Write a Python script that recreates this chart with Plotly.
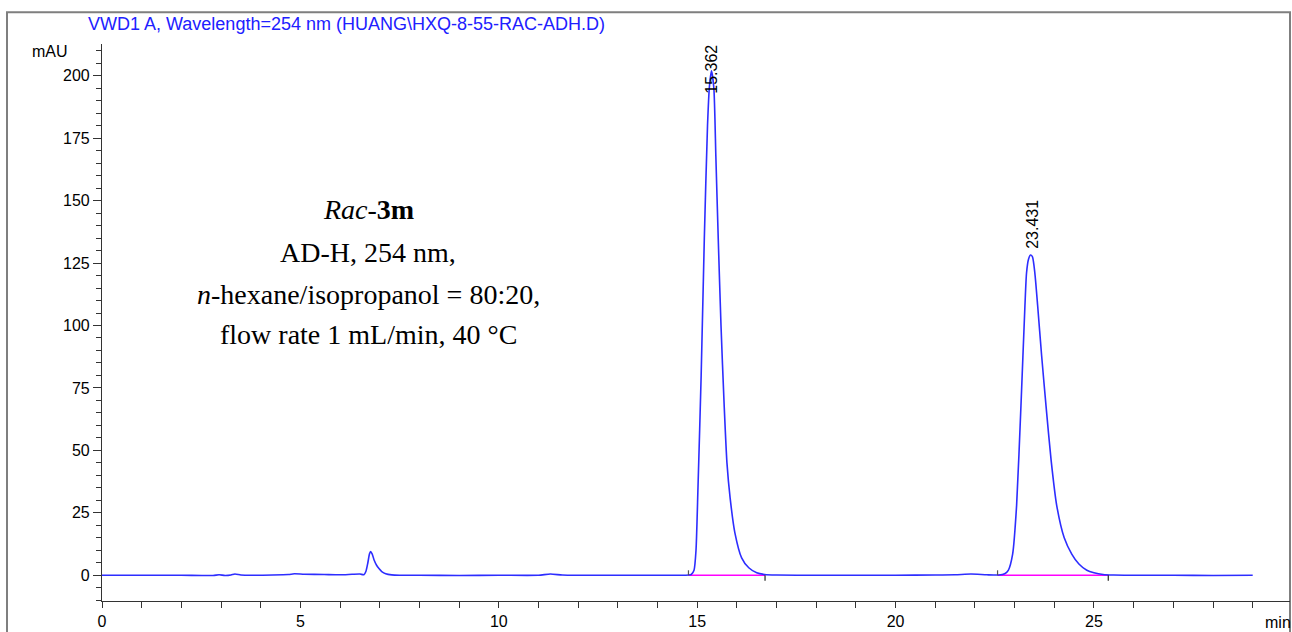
import plotly.graph_objects as go

# ---- data ----
time_min = [0.0, 1.0, 2.0, 2.8, 2.95, 3.1, 3.25, 3.35, 3.5, 3.8, 4.3, 4.7, 4.85, 5.1, 5.6, 6.0, 6.3, 6.5, 6.6,
            6.65, 6.7, 6.74, 6.77, 6.81, 6.86, 6.92, 6.98, 7.05, 7.15, 7.3, 7.5, 8.0, 9.0, 10.0, 11.0,
            11.3, 11.6, 12.0, 13.0, 14.0, 14.6, 14.78, 14.85, 14.92, 14.97, 15.02, 15.1, 15.18, 15.26,
            15.31, 15.36, 15.42, 15.47, 15.53, 15.6, 15.68, 15.75, 15.83, 15.95, 16.12, 16.3, 16.5,
            16.7, 17.0, 18.0, 19.0, 20.0, 21.0, 21.5, 21.9, 22.3, 22.6, 22.75, 22.84, 22.95, 23.05,
            23.16, 23.26, 23.3, 23.35, 23.4, 23.45, 23.51, 23.58, 23.68, 23.79, 23.92, 24.06, 24.25,
            24.44, 24.62, 24.82, 25.0, 25.23, 25.5, 26.0, 27.0, 28.0, 29.0]
signal_mau = [0.0, 0.0, 0.0, -0.1, 0.2, -0.1, 0.1, 0.5, 0.1, 0.0, 0.1, 0.3, 0.6, 0.4, 0.3, 0.2, 0.4, 0.5, 0.2,
              1.5, 5.0, 8.5, 9.5, 8.5, 6.0, 4.0, 2.7, 1.5, 0.6, 0.15, 0.0, 0.0, -0.1, 0.0, 0.0,
              0.5, 0.1, 0.0, 0.0, 0.0, 0.0, 0.1, 0.3, 2.0, 10.0, 35.0, 80.0, 135.0, 180.0,
              196.0, 202.0, 195.0, 168.0, 135.0, 100.0, 68.0, 45.0, 31.0, 17.0, 7.0, 3.0, 1.0,
              0.3, 0.1, 0.0, 0.0, 0.0, 0.1, 0.2, 0.5, 0.2, 0.1, 0.6, 2.0, 8.5, 28.0,
              68.0, 108.0, 121.0, 126.5, 128.2, 127.5, 121.0, 108.0, 88.0, 68.0, 46.0, 28.0, 15.0,
              8.5, 4.5, 2.0, 1.0, 0.3, 0.1, 0.0, 0.0, -0.1, 0.0]

peak_rt = [15.362, 23.431]
peak_labels = ["15.362", "23.431"]
peak_label_base = [192.0, 130.0]
baseline_start = [14.78, 22.57]
baseline_end = [16.71, 25.36]

y_ticks = [0, 25, 50, 75, 100, 125, 150, 175, 200]
x_ticks = [0, 5, 10, 15, 20, 25]

title_text = "VWD1 A, Wavelength=254 nm (HUANG\\HXQ-8-55-RAC-ADH.D)"
info_lines = ["<i>Rac</i>-<b>3m</b>", "AD-H, 254 nm,", "<i>n</i>-hexane/isopropanol = 80:20,",
              "flow rate 1 mL/min, 40 °C"]

# ---- figure ----
W, H = 1292, 632
ML, MR, MT, MB = 102, 2, 44, 26

fig = go.Figure()

# integration baselines (magenta)
for s, e in zip(baseline_start, baseline_end):
    fig.add_trace(go.Scatter(x=[s, e], y=[0, 0], mode="lines",
                             line=dict(color="#ff00ff", width=1.5), hoverinfo="skip", showlegend=False))

fig.add_trace(go.Scatter(x=time_min, y=signal_mau, mode="lines",
                         line=dict(color="rgb(45,45,255)", width=1.6, shape="spline", smoothing=0.6),
                         showlegend=False))

shapes = []
for s, e in zip(baseline_start, baseline_end):
    shapes.append(dict(type="line", xref="x", yref="y", x0=s, x1=s, y0=0, y1=2.0,
                       line=dict(color="#555555", width=1.2)))
    shapes.append(dict(type="line", xref="x", yref="y", x0=e, x1=e, y0=0, y1=-2.2,
                       line=dict(color="#222222", width=1.2)))

pw = W - ML - MR
ph = H - MT - MB


def py(ypix):
    return (H - MB - ypix) / ph


def px(xpix):
    return (xpix - ML) / pw


# outer frame
shapes.append(dict(type="rect", xref="paper", yref="paper",
                   x0=px(7), x1=px(1290), y0=py(640), y1=py(12),
                   line=dict(color="#7f7f7f", width=2), fillcolor="rgba(0,0,0,0)", layer="below"))

annotations = []
for rt, lab, yb in zip(peak_rt, peak_labels, peak_label_base):
    annotations.append(dict(x=rt, y=yb, xref="x", yref="y", text=lab, showarrow=False,
                            textangle=-90, xanchor="center", yanchor="bottom",
                            font=dict(family="Liberation Sans, Arial", size=16, color="#000000")))

# title
annotations.append(dict(x=px(86), y=py(24), xref="paper", yref="paper",
                        text=title_text, showarrow=False, xanchor="left", yanchor="middle",
                        font=dict(family="Liberation Sans, Arial", size=18, color="#2020ff")))
# axis units
annotations.append(dict(x=px(50), y=py(52), xref="paper", yref="paper",
                        text="mAU", showarrow=False, xanchor="center", yanchor="middle",
                        font=dict(family="Liberation Sans, Arial", size=16, color="#000000")))
annotations.append(dict(x=px(1278), y=py(628), xref="paper", yref="paper",
                        text="min", showarrow=False, xanchor="center", yanchor="middle",
                        font=dict(family="Liberation Sans, Arial", size=16, color="#000000")))

line_y = [211, 254, 297, 337]
for txt, yy in zip(info_lines, line_y):
    annotations.append(dict(x=px(368), y=py(yy), xref="paper", yref="paper",
                            text=txt, showarrow=False, xanchor="center", yanchor="middle",
                            font=dict(family="Liberation Serif, Times New Roman, serif", size=28,
                                      color="#000000")))

fig.update_layout(
    width=W, height=H,
    margin=dict(l=ML, r=MR, t=MT, b=MB, pad=0),
    paper_bgcolor="white", plot_bgcolor="white",
    shapes=shapes, annotations=annotations,
    xaxis=dict(range=[0, 29.94], tickvals=x_ticks, ticktext=[str(v) for v in x_ticks],
               ticks="outside", ticklen=6, tickwidth=1, tickcolor="#333333",
               showline=True, linecolor="#333333", linewidth=1.2, showgrid=False, zeroline=False,
               minor=dict(dtick=1, ticks="outside", ticklen=6, tickwidth=1, tickcolor="#333333", showgrid=False),
               tickfont=dict(family="Liberation Sans, Arial", size=16, color="#000000")),
    yaxis=dict(range=[-10.3, 212.7], tickvals=y_ticks, ticktext=[str(v) for v in y_ticks],
               ticks="outside", ticklen=8, tickwidth=1, tickcolor="#333333",
               showline=True, linecolor="#333333", linewidth=1.2, showgrid=False, zeroline=False,
               minor=dict(dtick=5, tick0=0, ticks="outside", ticklen=5, tickwidth=1, tickcolor="#333333",
                          showgrid=False),
               tickfont=dict(family="Liberation Sans, Arial", size=16, color="#000000")),
)

fig.write_html("out.html")
